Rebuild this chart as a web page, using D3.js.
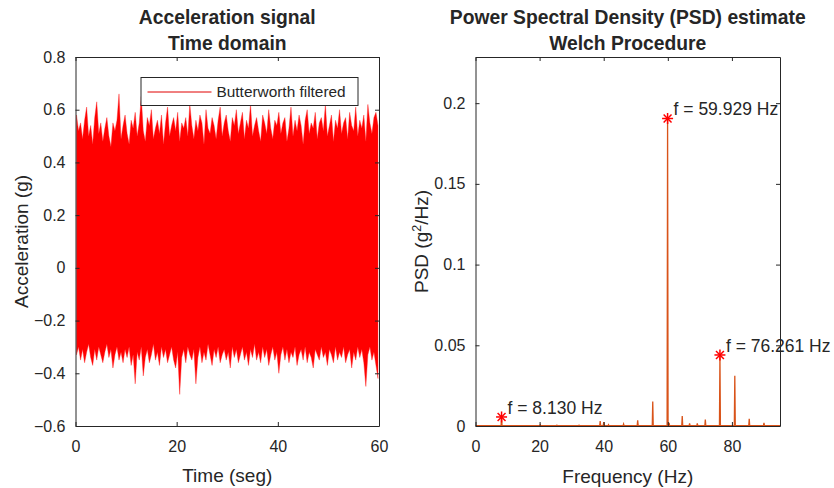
<!DOCTYPE html>
<html><head><meta charset="utf-8">
<script src="https://cdn.jsdelivr.net/npm/d3@7"></script>
<style>
body{margin:0;background:#fff}
text{font-family:"Liberation Sans",Arial,Helvetica,sans-serif;fill:#262626}
</style>
</head><body>
<svg id="c" width="834" height="488"></svg>
<script>
// ---------- DATA ----------
// Left panel: acceleration signal, per-bin extremes (bin = 0.4 s)
const binWidth = 0.4;
const sigMax = [
0.58,0.52,0.55,0.49,0.56,0.61,0.50,0.54,0.47,0.57,
0.63,0.51,0.55,0.48,0.53,0.57,0.50,0.46,0.55,0.52,
0.56,0.66,0.49,0.54,0.58,0.51,0.47,0.56,0.53,0.59,
0.50,0.55,0.65,0.52,0.48,0.57,0.54,0.60,0.49,0.53,
0.56,0.51,0.58,0.47,0.55,0.61,0.50,0.54,0.57,0.52,
0.59,0.48,0.55,0.53,0.57,0.50,0.62,0.54,0.49,0.56,
0.52,0.58,0.55,0.47,0.60,0.53,0.51,0.57,0.54,0.49,
0.56,0.61,0.50,0.55,0.58,0.52,0.48,0.57,0.54,0.60,
0.51,0.55,0.59,0.49,0.56,0.53,0.62,0.50,0.54,0.57,
0.52,0.48,0.58,0.55,0.51,0.60,0.53,0.49,0.56,0.54,
0.59,0.51,0.55,0.57,0.48,0.53,0.61,0.50,0.56,0.52,
0.58,0.54,0.47,0.56,0.60,0.51,0.55,0.53,0.59,0.49,
0.55,0.57,0.52,0.62,0.50,0.54,0.58,0.48,0.56,0.53,
0.60,0.51,0.55,0.57,0.49,0.59,0.54,0.52,0.61,0.50,
0.56,0.53,0.58,0.48,0.62,0.55,0.51,0.57,0.59,0.54];
const sigMin = [
-0.33,-0.30,-0.35,-0.31,-0.36,-0.32,-0.29,-0.34,-0.37,-0.31,
-0.35,-0.30,-0.33,-0.36,-0.32,-0.29,-0.34,-0.31,-0.38,-0.33,
-0.30,-0.35,-0.32,-0.36,-0.31,-0.34,-0.30,-0.37,-0.33,-0.44,
-0.32,-0.35,-0.30,-0.41,-0.34,-0.31,-0.36,-0.33,-0.29,-0.35,
-0.32,-0.37,-0.30,-0.34,-0.31,-0.36,-0.33,-0.30,-0.35,-0.38,
-0.32,-0.48,-0.34,-0.31,-0.36,-0.30,-0.33,-0.35,-0.31,-0.44,
-0.34,-0.30,-0.36,-0.32,-0.35,-0.29,-0.33,-0.37,-0.31,-0.34,
-0.30,-0.36,-0.33,-0.31,-0.35,-0.32,-0.38,-0.30,-0.34,-0.31,
-0.36,-0.33,-0.30,-0.35,-0.32,-0.37,-0.31,-0.34,-0.29,-0.35,
-0.32,-0.36,-0.30,-0.34,-0.31,-0.37,-0.33,-0.30,-0.35,-0.32,
-0.40,-0.33,-0.30,-0.35,-0.31,-0.36,-0.32,-0.34,-0.30,-0.37,
-0.33,-0.31,-0.35,-0.30,-0.36,-0.32,-0.34,-0.38,-0.31,-0.33,
-0.35,-0.30,-0.34,-0.32,-0.37,-0.31,-0.33,-0.36,-0.30,-0.35,
-0.32,-0.34,-0.30,-0.36,-0.33,-0.31,-0.38,-0.32,-0.35,-0.30,
-0.34,-0.31,-0.36,-0.45,-0.33,-0.30,-0.35,-0.32,-0.37,-0.42];
const timeTicks = [0, 20, 40, 60];
const accTicks = [-0.6, -0.4, -0.2, 0, 0.2, 0.4, 0.6, 0.8];
const legendLabel = "Butterworth filtered";

// Right panel: PSD spectral lines (Hz, g^2/Hz)
const psdFreq = [8.13, 20.2, 25.4, 32.3, 38.9, 40.0, 41.5, 46.2, 50.6, 55.3, 59.929, 60.4, 64.5, 66.8, 69.2, 71.7, 76.261, 80.9, 85.4, 90.0];
const psdVal  = [0.0056, 0.0008, 0.0005, 0.0005, 0.0030, 0.0025, 0.0008, 0.0012, 0.0035, 0.0152, 0.1905, 0.0020, 0.0062, 0.0017, 0.0017, 0.0040, 0.0440, 0.0312, 0.0045, 0.0020];
const psdFloor = 0.0002;
const peakFreq = [8.130, 59.929, 76.261];
const peakVal  = [0.0056, 0.1905, 0.0440];
const freqTicks = [0, 20, 40, 60, 80];
const psdTicks = [0, 0.05, 0.1, 0.15, 0.2];

// ---------- DRAW ----------
const svg = d3.select("#c");
const axColor = "#262626";
const plotTop = 57, plotBottom = 426;

function drawAxes(g, x, y, xt, yt, yfmt) {
  const ax = g.append("g").attr("transform", `translate(0,${plotBottom})`)
    .call(d3.axisBottom(x).tickValues(xt).tickSizeInner(-4).tickSizeOuter(0).tickPadding(15).tickFormat(d3.format("d")));
  const axT = g.append("g").attr("transform", `translate(0,${plotTop})`)
    .call(d3.axisTop(x).tickValues(xt).tickSizeInner(-4).tickSizeOuter(0).tickFormat(""));
  const ay = g.append("g").attr("transform", `translate(${x.range()[0]},0)`)
    .call(d3.axisLeft(y).tickValues(yt).tickSizeInner(-4).tickSizeOuter(0).tickPadding(10).tickFormat(yfmt));
  const ayR = g.append("g").attr("transform", `translate(${x.range()[1]},0)`)
    .call(d3.axisRight(y).tickValues(yt).tickSizeInner(-4).tickSizeOuter(0).tickFormat(""));
  [ax, axT, ay, ayR].forEach(a => {
    a.selectAll("path,line").attr("stroke", axColor).attr("stroke-width", 1);
    a.selectAll("text").style("font-size", "16px").attr("fill", axColor).style("font-family", '"Liberation Sans",Arial,sans-serif');
  });
}

// Left panel
const x1 = d3.scaleLinear().domain([0, 60]).range([75.5, 379]);
const y1 = d3.scaleLinear().domain([-0.6, 0.8]).range([plotBottom, plotTop]);
const g1 = svg.append("g");
svg.append("clipPath").attr("id", "clip1").append("rect")
  .attr("x", x1.range()[0]).attr("y", plotTop).attr("width", x1.range()[1] - x1.range()[0]).attr("height", plotBottom - plotTop);
const sigBins = sigMax.map((v, i) => ({ t: (i + 0.5) * binWidth, hi: v, lo: sigMin[i] }));
g1.append("path").attr("clip-path", "url(#clip1)")
  .attr("d", d3.area().x(d => x1(d.t)).y0(d => y1(d.lo)).y1(d => y1(d.hi))(sigBins))
  .attr("fill", "#ff0000").attr("stroke", "#ff2020").attr("stroke-width", 0.4);
drawAxes(g1, x1, y1, timeTicks, accTicks, d => d === 0 ? "0" : d3.format(".1f")(d));

// legend
const lg = g1.append("g");
lg.append("rect").attr("x", 141).attr("y", 77.5).attr("width", 217).attr("height", 28)
  .attr("fill", "#fff").attr("stroke", axColor).attr("stroke-width", 1);
lg.append("line").attr("x1", 147.5).attr("x2", 211.5).attr("y1", 92).attr("y2", 92)
  .attr("stroke", "#e00000").attr("stroke-width", 1);
lg.append("text").attr("x", 216.5).attr("y", 92).attr("dy", "0.35em").style("font-size", "15.4px").text(legendLabel);

// titles & labels left
const cx1 = (x1.range()[0] + x1.range()[1]) / 2;
g1.append("text").attr("x", cx1).attr("y", 17).attr("dy", "0.35em").attr("text-anchor", "middle")
  .style("font-size", "19.3px").style("font-weight", "bold").attr("fill", "#000").text("Acceleration signal");
g1.append("text").attr("x", cx1).attr("y", 43).attr("dy", "0.35em").attr("text-anchor", "middle")
  .style("font-size", "19.3px").style("font-weight", "bold").attr("fill", "#000").text("Time domain");
g1.append("text").attr("x", cx1).attr("y", 475).attr("dy", "0.35em").attr("text-anchor", "middle")
  .style("font-size", "19px").text("Time (seg)");
g1.append("text").attr("transform", `translate(21,${(plotTop + plotBottom) / 2}) rotate(-90)`).attr("dy", "0.35em")
  .attr("text-anchor", "middle").style("font-size", "19px").text("Acceleration (g)");

// Right panel
const x2 = d3.scaleLinear().domain([0, 95]).range([475.5, 780]);
const y2 = d3.scaleLinear().domain([0, 0.2286]).range([plotBottom, plotTop]);
const g2 = svg.append("g");
svg.append("clipPath").attr("id", "clip2").append("rect")
  .attr("x", x2.range()[0]).attr("y", plotTop).attr("width", x2.range()[1] - x2.range()[0]).attr("height", plotBottom - plotTop);
const psdPts = [[0, psdFloor]];
psdFreq.forEach((f, i) => {
  psdPts.push([f - 0.15, psdFloor], [f, psdVal[i]], [f + 0.15, psdFloor]);
});
psdPts.push([95, psdFloor]);
g2.append("path").attr("clip-path", "url(#clip2)")
  .attr("d", d3.line().x(d => x2(d[0])).y(d => y2(d[1]))(psdPts))
  .attr("fill", "none").attr("stroke", "#d95319").attr("stroke-width", 1.3);
drawAxes(g2, x2, y2, freqTicks, psdTicks, d => d === 0 ? "0" : String(d));

// peak markers (asterisk)
peakFreq.forEach((f, i) => {
  const px = x2(f), py = y2(peakVal[i]);
  const r = 5.5, r2 = r * 0.72;
  const sg = g2.append("g").attr("stroke", "#ff0000").attr("stroke-width", 1.5);
  sg.append("line").attr("x1", px - r).attr("x2", px + r).attr("y1", py).attr("y2", py);
  sg.append("line").attr("x1", px).attr("x2", px).attr("y1", py - r).attr("y2", py + r);
  sg.append("line").attr("x1", px - r2).attr("x2", px + r2).attr("y1", py - r2).attr("y2", py + r2);
  sg.append("line").attr("x1", px - r2).attr("x2", px + r2).attr("y1", py + r2).attr("y2", py - r2);
  g2.append("text").attr("x", px + 6).attr("y", py - 9.5).attr("dy", "0.35em")
    .style("font-size", "17.5px").attr("fill", "#000").text(`f = ${f.toFixed(3)} Hz`);
});

const cx2 = (x2.range()[0] + x2.range()[1]) / 2;
g2.append("text").attr("x", cx2).attr("y", 17).attr("dy", "0.35em").attr("text-anchor", "middle")
  .style("font-size", "19.3px").style("font-weight", "bold").attr("fill", "#000").text("Power Spectral Density (PSD) estimate");
g2.append("text").attr("x", cx2).attr("y", 43).attr("dy", "0.35em").attr("text-anchor", "middle")
  .style("font-size", "19.3px").style("font-weight", "bold").attr("fill", "#000").text("Welch Procedure");
g2.append("text").attr("x", cx2).attr("y", 476).attr("dy", "0.35em").attr("text-anchor", "middle")
  .style("font-size", "19px").text("Frequency (Hz)");
const yl = g2.append("text").attr("transform", `translate(421,${(plotTop + plotBottom) / 2}) rotate(-90)`).attr("dy", "0.35em")
  .attr("text-anchor", "middle").style("font-size", "19px");
yl.append("tspan").text("PSD (g");
yl.append("tspan").attr("baseline-shift", "super").style("font-size", "12.5px").text("2");
yl.append("tspan").text("/Hz)");
</script>
</body></html>
